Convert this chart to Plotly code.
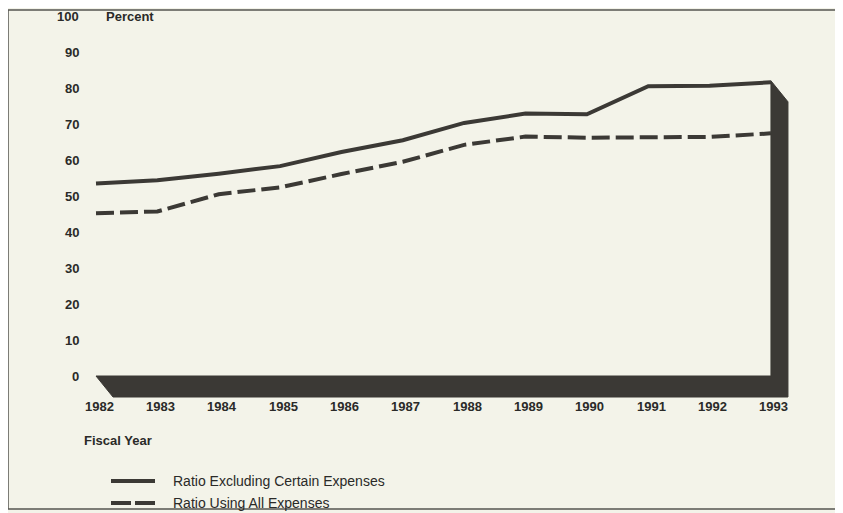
import plotly.graph_objects as go

# data
years = list(range(1982, 1994))
ratio_excl = [53.5, 54.4, 56.2, 58.3, 62.2, 65.5, 70.3, 72.9, 72.7, 80.5, 80.6, 81.6]
ratio_all = [45.2, 45.7, 50.5, 52.4, 56.1, 59.5, 64.2, 66.5, 66.2, 66.3, 66.4, 67.4]
y_ticks = list(range(0, 101, 10))
series_names = ["Ratio Excluding Certain Expenses", "Ratio Using All Expenses"]

# the page body keeps its default 8px margin, so work in shifted pixels
OFF = 8
W, H = 843 - OFF, 513 - OFF
INK = "#3b3935"
BG = "#f3f3e9"

# pixel geometry of the scanned page (reference pixels)
x_px0, yr_px = 96 - OFF, 61.36     # px of 1982, px per year
y_px0, val_px = 376 - OFF, 3.6     # px of 0 %, px per percent
depth_x, depth_y = 17, 21          # 3D depth of floor / wall in px

xr = [1982 - x_px0 / yr_px, 1982 + (W - x_px0) / yr_px]
yr = [(y_px0 - H) / val_px, y_px0 / val_px]
dx = depth_x / yr_px
dy = depth_y / val_px


def px(x):
    return (x - OFF) / W


def py(y):
    return 1 - (y - OFF) / H


fig = go.Figure()

fig.add_trace(go.Scatter(x=years, y=ratio_excl, mode="lines",
                         line=dict(color=INK, width=4), name=series_names[0]))
fig.add_trace(go.Scatter(x=years, y=ratio_all, mode="lines",
                         line=dict(color=INK, width=4, dash="18px,6px"),
                         name=series_names[1]))

# floor and right wall of the 3D frame
x0, x1 = years[0], years[-1]
top = 82
path = (f"M {x1},{top} L {x1 + dx},{top - dy} L {x1 + dx},{-dy} "
        f"L {x0 + dx},{-dy} L {x0},0 L {x1},0 Z")
shapes = [dict(type="path", path=path, xref="x", yref="y",
               fillcolor=INK, line=dict(color=INK, width=1), layer="below")]

# page border
shapes.append(dict(type="rect", xref="paper", yref="paper",
                   x0=px(8), x1=px(839), y0=py(509), y1=py(10),
                   line=dict(color="#555550", width=1.5)))

# legend keys
shapes.append(dict(type="line", xref="paper", yref="paper",
                   x0=px(111), x1=px(155), y0=py(481), y1=py(481),
                   line=dict(color=INK, width=4)))
shapes.append(dict(type="line", xref="paper", yref="paper",
                   x0=px(111), x1=px(155), y0=py(503), y1=py(503),
                   line=dict(color=INK, width=4, dash="20px,4px")))

bold = dict(family="Liberation Sans", size=13, color="#2a2a28")
annotations = []
for v in y_ticks:
    annotations.append(dict(x=1982 - 15 / yr_px, y=v, xref="x", yref="y",
                            text=f"<b>{v}</b>", showarrow=False,
                            xanchor="right", yanchor="middle", font=bold))
for yv in years:
    annotations.append(dict(x=yv, y=-30 / val_px, xref="x", yref="y",
                            text=f"<b>{yv}</b>", showarrow=False, xshift=3,
                            xanchor="center", yanchor="middle", font=bold))

annotations.append(dict(x=px(104), y=py(16), xref="paper", yref="paper",
                        text="<b>Percent</b>", showarrow=False,
                        xanchor="left", yanchor="middle", font=bold))
annotations.append(dict(x=px(82), y=py(440), xref="paper", yref="paper",
                        text="<b>Fiscal Year</b>", showarrow=False,
                        xanchor="left", yanchor="middle", font=bold))

reg = dict(family="Liberation Sans", size=14, color="#2a2a28")
for name, ypx in zip(series_names, [481, 503]):
    annotations.append(dict(x=px(171), y=py(ypx), xref="paper", yref="paper",
                            text=name, showarrow=False,
                            xanchor="left", yanchor="middle", font=reg))

fig.update_layout(
    width=W, height=H,
    margin=dict(l=0, r=0, t=0, b=0),
    paper_bgcolor=BG, plot_bgcolor=BG,
    showlegend=False,
    xaxis=dict(range=xr, visible=False, fixedrange=True),
    yaxis=dict(range=yr, visible=False, fixedrange=True),
    shapes=shapes,
    annotations=annotations,
)

fig.write_html("out.html")
